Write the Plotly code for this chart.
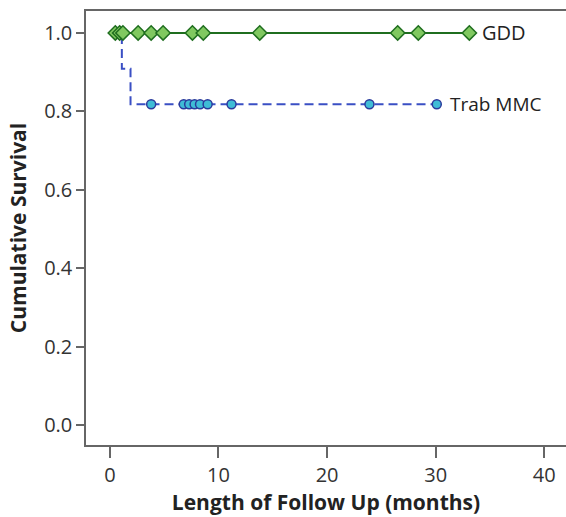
import plotly.graph_objects as go

# Kaplan-Meier step data
gdd_step_t = [0.0, 33.1]
gdd_step_s = [1.0, 1.0]
gdd_cens_t = [0.5, 0.9, 1.2, 2.6, 3.8, 4.9, 7.6, 8.6, 13.8, 26.5, 28.4, 33.1]
gdd_cens_s = [1.0] * len(gdd_cens_t)

trab_step_t = [0.0, 1.1, 1.9, 30.1]
trab_step_s = [1.0, 0.909, 0.818, 0.818]
trab_cens_t = [3.8, 6.8, 7.3, 7.8, 8.3, 9.0, 11.2, 23.9, 30.1]
trab_cens_s = [0.818] * len(trab_cens_t)

x_ticks = [0, 10, 20, 30, 40]
y_ticks = [0.0, 0.2, 0.4, 0.6, 0.8, 1.0]
y_tick_labels = ["0.0", "0.2", "0.4", "0.6", "0.8", "1.0"]

FONT = "Open Sans"

fig = go.Figure()
fig.add_trace(go.Scatter(x=gdd_step_t, y=gdd_step_s, mode="lines", line_shape="hv",
                         line=dict(color="#1f6e1f", width=2), hoverinfo="skip"))
fig.add_trace(go.Scatter(x=trab_step_t, y=trab_step_s, mode="lines", line_shape="hv",
                         line=dict(color="#3a4fc4", width=2, dash="9px,5px"), hoverinfo="skip"))
fig.add_trace(go.Scatter(x=gdd_cens_t, y=gdd_cens_s, mode="markers",
                         marker=dict(symbol="diamond", size=11, color="#80c860",
                                     line=dict(color="#1f6e1f", width=1.5))))
fig.add_trace(go.Scatter(x=trab_cens_t, y=trab_cens_s, mode="markers",
                         marker=dict(symbol="circle", size=9, color="#3fbcd6",
                                     line=dict(color="#2a3a9c", width=1.5))))

fig.add_annotation(x=34.1, y=1.0, text="GDD", showarrow=False, xanchor="left",
                   font=dict(size=20, color="#222", family=FONT))
fig.add_annotation(x=31.1, y=0.818, text="Trab MMC", showarrow=False, xanchor="left",
                   font=dict(size=19, color="#222", family=FONT))

fig.update_layout(
    width=566, height=517,
    margin=dict(l=86, r=0, t=11, b=72),
    paper_bgcolor="white", plot_bgcolor="white",
    showlegend=False,
    font=dict(family=FONT, color="#333"),
)
fig.update_xaxes(range=[-2.2, 42.0], tickvals=x_ticks, ticks="outside", ticklen=11,
                 tickwidth=1.5, tickcolor="#666", showline=True, linecolor="#666",
                 linewidth=1.5, mirror=True, showgrid=False, zeroline=False,
                 tickfont=dict(size=20, color="#333", family=FONT),
                 title=dict(text="<b>Length of Follow Up (months)</b>",
                            font=dict(size=21, color="#222", family=FONT), standoff=1))
fig.update_yaxes(range=[-0.051, 1.056], tickvals=y_ticks, ticktext=y_tick_labels,
                 ticks="outside", ticklen=8, tickwidth=1.5, tickcolor="#666",
                 showline=True, linecolor="#666", linewidth=1.5, showgrid=False,
                 zeroline=False, tickfont=dict(size=20, color="#333", family=FONT),
                 title=dict(text="<b>Cumulative Survival</b>",
                            font=dict(size=21, color="#222", family=FONT), standoff=12))

fig.write_html("out.html", config={"displayModeBar": False},
               post_script="document.body.style.margin='0';document.body.style.overflow='hidden';")
